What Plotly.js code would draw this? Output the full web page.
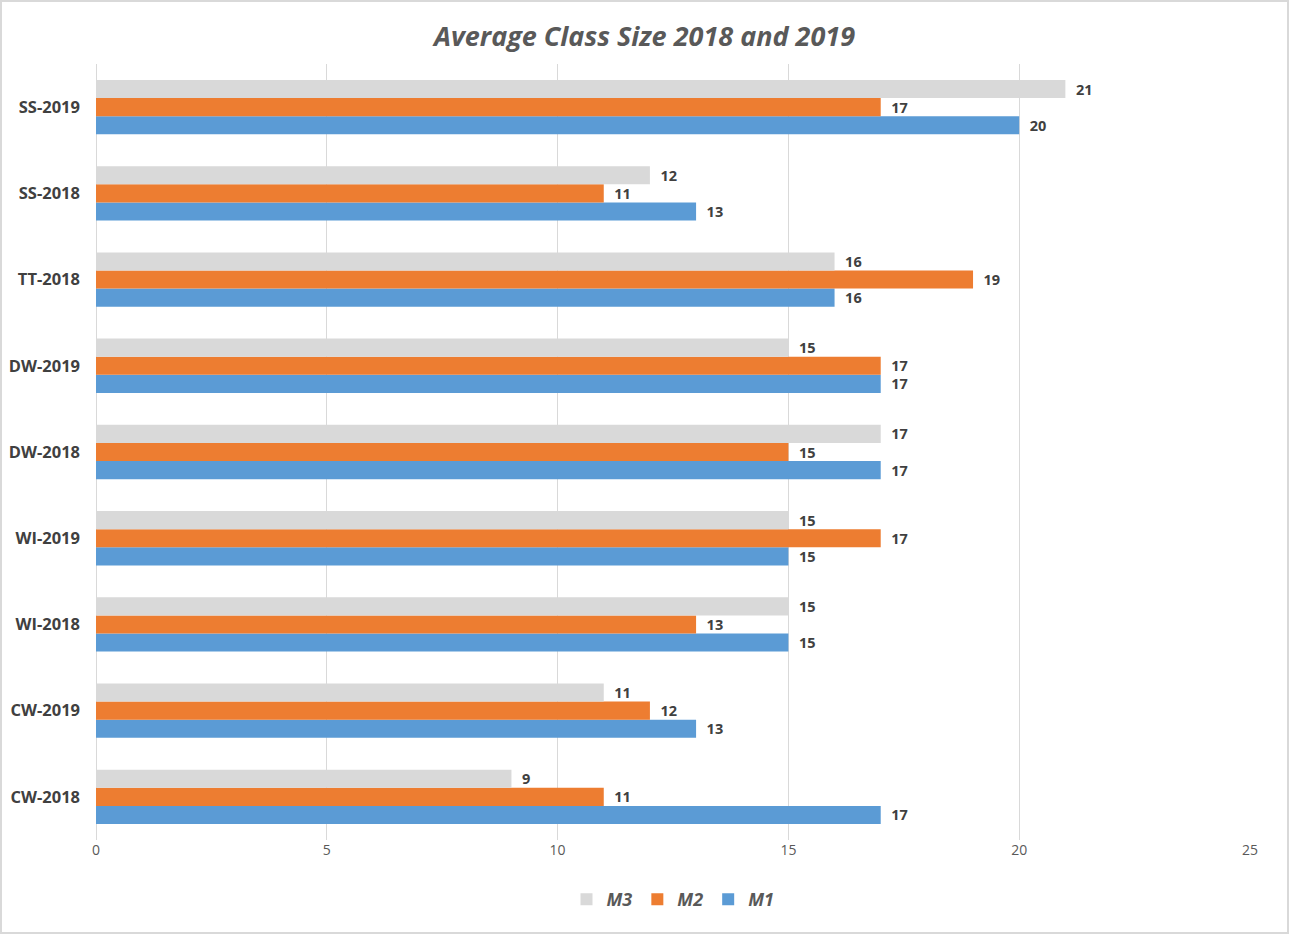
<!DOCTYPE html>
<html>
<head>
<meta charset="utf-8">
<script src="https://cdn.plot.ly/plotly-3.0.1.min.js"></script>
<style>
html,body{margin:0;padding:0;background:#fff;}
#chart{width:1289px;height:934px;box-sizing:border-box;border:2px solid #d9d9d9;}
</style>
</head>
<body>
<div id="chart"></div>
<script>
const categories = ["CW-2018","CW-2019","WI-2018","WI-2019","DW-2018","DW-2019","TT-2018","SS-2018","SS-2019"];
const m1 = [17,13,15,15,17,17,16,13,20];
const m2 = [11,12,13,17,15,17,19,11,17];
const m3 = [9,11,15,15,17,15,16,12,21];
const xTicks = [0,5,10,15,20,25];

function series(name, vals, color){
  return {
    type:'bar', orientation:'h', name:name,
    y:categories, x:vals,
    marker:{color:color},
    text:vals.map(v=>'\u00a0\u00a0'+v),
    textposition:'outside',
    constraintext:'none',
    textfont:{family:'"Open Sans", sans-serif', size:14.5, color:'#404040', weight:'bold'},
    cliponaxis:false,
    hoverinfo:'x+name'
  };
}
const data = [
  series('M1', m1, '#5b9bd5'),
  series('M2', m2, '#ed7d31'),
  series('M3', m3, '#d9d9d9')
];
const layout = {
  width:1285, height:930,
  margin:{l:94, r:37, t:62, b:92},
  paper_bgcolor:'#fff', plot_bgcolor:'#fff',
  barmode:'group', bargap:0.37, bargroupgap:0,
  title:{text:'<b><i>Average Class Size 2018 and 2019</i></b>', x:0.5, xref:'container', y:0.963, yanchor:'middle',
    font:{family:'"Open Sans", sans-serif', size:27, color:'#595959'}},
  xaxis:{range:[0,25], tickvals:xTicks, ticktext:xTicks.map(String), showgrid:true, gridcolor:'#d9d9d9', gridwidth:1,
    zeroline:true, zerolinecolor:'#d9d9d9', showline:false, ticks:'',
    tickfont:{family:'"Open Sans", sans-serif', size:14, color:'#595959'}, fixedrange:true},
  yaxis:{type:'category', categoryorder:'array', categoryarray:categories, showgrid:false, zeroline:false, showline:false, ticks:'',
    ticklabelstandoff:15,
    tickfont:{family:'"Open Sans", sans-serif', size:16.5, color:'#404040', weight:'bold'}},
  showlegend:true,
  legend:{orientation:'h', traceorder:'reversed', x:0.5, xanchor:'center', yref:'container', y:0.035, yanchor:'middle',
    font:{family:'"Open Sans", sans-serif', size:18, color:'#595959', style:'italic', weight:'bold'},
    itemwidth:30}
};
Plotly.newPlot('chart', data, layout, {displayModeBar:false, responsive:false});
</script>
</body>
</html>
